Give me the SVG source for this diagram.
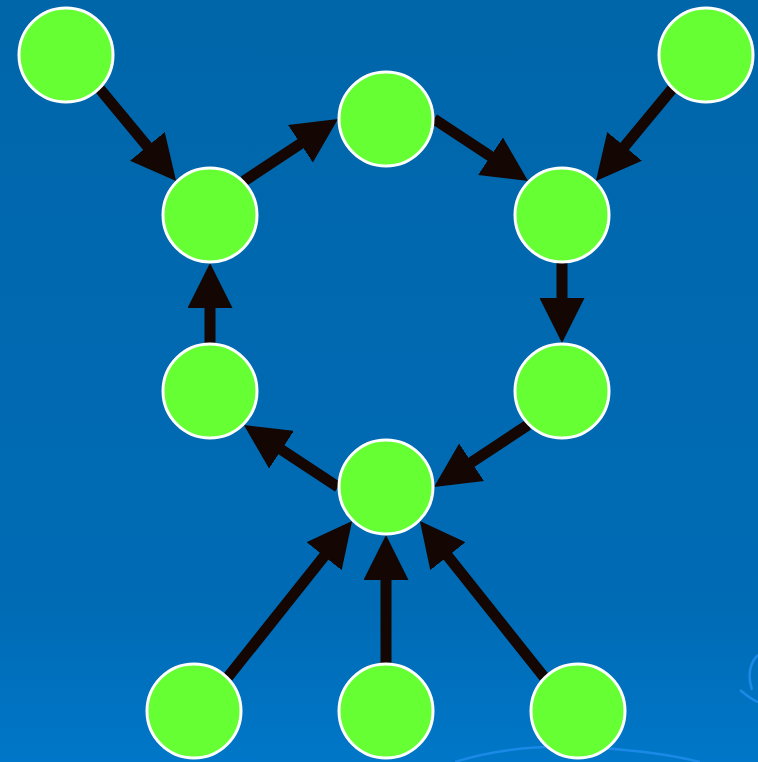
<svg xmlns="http://www.w3.org/2000/svg" width="758" height="762" viewBox="0 0 758 762">
<defs>
<linearGradient id="bg" x1="0" y1="0" x2="0" y2="1">
<stop offset="0" stop-color="#0066AA"/>
<stop offset="0.8" stop-color="#006BB5"/>
<stop offset="1" stop-color="#0077C8"/>
</linearGradient>
<marker id="ah" markerUnits="userSpaceOnUse" markerWidth="45" markerHeight="45" refX="5" refY="22.5" orient="auto" viewBox="0 0 45 45">
<path d="M0,0 L45,22.5 L0,45 z" fill="#140602"/>
</marker>
<style>
.e{stroke:#140602;stroke-width:11;fill:none;marker-end:url(#ah)}
.n{fill:#66FF33;stroke:#FFFFFF;stroke-width:3}
.deco{fill:none;stroke:#1E8CEA;stroke-width:2.5;opacity:0.9}
</style>
</defs>
<rect width="758" height="762" fill="url(#bg)"/>
<g id="decoration">
<path class="deco" d="M455,762 Q520,742 600,748 Q660,752 700,762"/>
<path class="deco" d="M740,690 Q752,700 758,702"/>
<path class="deco" d="M758,655 Q745,668 752,690"/>
</g>
<g id="connectors">
<line class="e" x1="99.9" y1="88.9" x2="150.6" y2="150.2"/>
<line class="e" x1="243.9" y1="181.1" x2="304.6" y2="141"/>
<line class="e" x1="434" y1="119" x2="494.7" y2="159"/>
<line class="e" x1="672.1" y1="88.9" x2="621.4" y2="150.2"/>
<line class="e" x1="562" y1="263" x2="562" y2="303"/>
<line class="e" x1="210" y1="343" x2="210" y2="303"/>
<line class="e" x1="528.1" y1="424.9" x2="467.4" y2="465"/>
<line class="e" x1="338" y1="487" x2="277.3" y2="447"/>
<line class="e" x1="227.9" y1="677.1" x2="327.2" y2="552.3"/>
<line class="e" x1="386" y1="663" x2="386" y2="575"/>
<line class="e" x1="544.1" y1="677.1" x2="444.8" y2="552.3"/>
</g>
<g id="nA"><circle class="n" cx="66" cy="55" r="47"/></g>
<g id="nB"><circle class="n" cx="706" cy="55" r="47"/></g>
<g id="nC"><circle class="n" cx="386" cy="119" r="47"/></g>
<g id="nD"><circle class="n" cx="210" cy="215" r="47"/></g>
<g id="nE"><circle class="n" cx="562" cy="215" r="47"/></g>
<g id="nF"><circle class="n" cx="210" cy="391" r="47"/></g>
<g id="nG"><circle class="n" cx="562" cy="391" r="47"/></g>
<g id="nH"><circle class="n" cx="386" cy="487" r="47"/></g>
<g id="nI"><circle class="n" cx="194" cy="711" r="47"/></g>
<g id="nJ"><circle class="n" cx="386" cy="711" r="47"/></g>
<g id="nK"><circle class="n" cx="578" cy="711" r="47"/></g>
</svg>
